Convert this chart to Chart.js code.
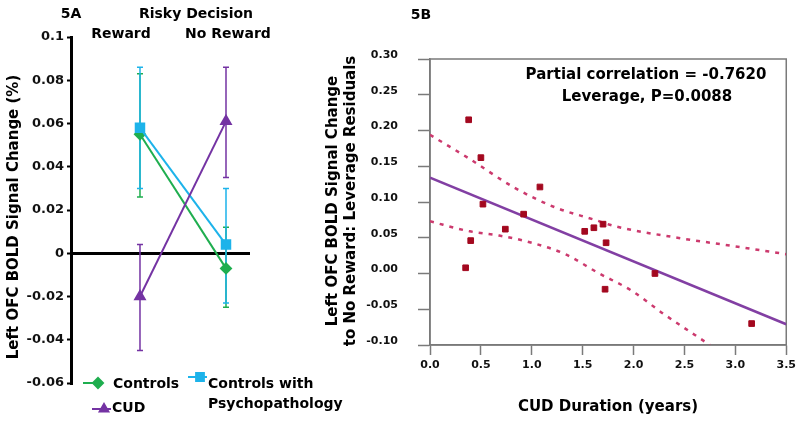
<!DOCTYPE html>
<html>
<head>
<meta charset="utf-8">
<script src="https://cdn.jsdelivr.net/npm/chart.js@4.4.1/dist/chart.umd.min.js"></script>
<style>
  html, body { margin: 0; padding: 0; background: #fff; }
  #wrap { position: relative; width: 800px; height: 421px; overflow: hidden; }
  #left { position: absolute; left: 0; top: 0; }
  #right { position: absolute; left: 300px; top: 0; }
</style>
</head>
<body>
<div id="wrap">
  <canvas id="left" width="370" height="421"></canvas>
  <canvas id="right" width="500" height="421"></canvas>
</div>
<script>
// ---------- Panel 5A data ----------
const leftCategories = ['Reward', 'No Reward'];
const leftYTicks = [-0.06, -0.04, -0.02, 0, 0.02, 0.04, 0.06, 0.08, 0.1];
const leftYTickLabels = ['-0.06', '-0.04', '-0.02', '0', '0.02', '0.04', '0.06', '0.08', '0.1'];

const controlsMean = [0.055, -0.007];
const controlsHigh = [0.083, 0.012];
const controlsLow  = [0.026, -0.025];

const psychoMean = [0.058, 0.004];
const psychoHigh = [0.086, 0.030];
const psychoLow  = [0.030, -0.023];

const cudMean = [-0.020, 0.061];
const cudHigh = [0.004, 0.086];
const cudLow  = [-0.045, 0.035];

// ---------- Panel 5B data ----------
const cudDuration = [0.35, 0.40, 0.38, 0.50, 0.52, 0.74, 0.92, 1.08, 1.52, 1.61, 1.70, 1.73, 1.72, 2.21, 3.16];
const leverageResiduals = [0.008, 0.046, 0.215, 0.162, 0.097, 0.062, 0.083, 0.121, 0.059, 0.064, 0.069, 0.043, -0.022, 0.000, -0.070];

const fitX = [0, 3.5];
const fitY = [0.134, -0.071];

const upperBandX = [0, 0.37, 0.83, 1.22, 1.62, 1.82, 2.43, 2.95, 3.5];
const upperBandY = [0.194, 0.162, 0.120, 0.093, 0.075, 0.066, 0.050, 0.039, 0.027];

const lowerBandX = [0, 0.39, 0.68, 1.0, 1.33, 1.65, 1.98, 2.3, 2.75];
const lowerBandY = [0.073, 0.059, 0.053, 0.043, 0.027, 0.001, -0.024, -0.057, -0.100];

const rightYTickLabels = ['-0.10', '-0.05', '0.00', '0.05', '0.10', '0.15', '0.20', '0.25', '0.30'];
const rightXTickLabels = ['0.0', '0.5', '1.0', '1.5', '2.0', '2.5', '3.0', '3.5'];

// ---------- styling ----------
const FONT = 'DejaVu Sans';
Chart.defaults.font.family = FONT;
Chart.defaults.color = '#000';

const GREEN = '#1fae4f';
const BLUE = '#1db3ea';
const PURPLE = '#7433a3';

function pts(ys) { return ys.map((y, i) => ({ x: i + 1, y })); }
function xy(xs, ys) { return xs.map((x, i) => ({ x, y: ys[i] })); }

// error bars + texts + legend for 5A
const errorBars = [
  { color: GREEN, high: controlsHigh, low: controlsLow },
  { color: BLUE, high: psychoHigh, low: psychoLow },
  { color: PURPLE, high: cudHigh, low: cudLow }
];

const leftDecor = {
  id: 'leftDecor',
  beforeDatasetsDraw(chart) {
    const ctx = chart.ctx, xs = chart.scales.x, ys = chart.scales.y;
    ctx.save();
    errorBars.forEach(eb => {
      ctx.strokeStyle = eb.color;
      ctx.lineWidth = 1.5;
      eb.high.forEach((h, i) => {
        const px = xs.getPixelForValue(i + 1);
        const top = ys.getPixelForValue(h), bot = ys.getPixelForValue(eb.low[i]);
        ctx.beginPath();
        ctx.moveTo(px, top); ctx.lineTo(px, bot);
        ctx.moveTo(px - 3, top); ctx.lineTo(px + 3, top);
        ctx.moveTo(px - 3, bot); ctx.lineTo(px + 3, bot);
        ctx.stroke();
      });
    });
    ctx.restore();
  },
  afterDraw(chart) {
    const ctx = chart.ctx;
    ctx.save();
    ctx.fillStyle = '#000';
    ctx.textAlign = 'center';
    ctx.textBaseline = 'middle';
    ctx.font = 'bold 14px ' + FONT;
    ctx.fillText('5A', 71, 14);
    ctx.fillText('Risky Decision', 196, 14);
    ctx.fillText(leftCategories[0], 121, 34);
    ctx.fillText(leftCategories[1], 228, 34);
    // y title
    ctx.save();
    ctx.translate(14, 217);
    ctx.rotate(-Math.PI / 2);
    ctx.font = 'bold 15px ' + FONT;
    ctx.fillText('Left OFC BOLD Signal Change (%)', 0, 0);
    ctx.restore();
    // legend
    const items = [
      { color: GREEN, style: 'rectRot', r: 5, x1: 83, x2: 103, mx: 98, y: 383, text: ['Controls'], tx: 113, ty: 384 },
      { color: PURPLE, style: 'triangle', r: 5, x1: 92, x2: 111, mx: 104, y: 409, text: ['CUD'], tx: 112, ty: 408 },
      { color: BLUE, style: 'rect', r: 5.5, x1: 188, x2: 207, mx: 200, y: 377, text: ['Controls with', 'Psychopathology'], tx: 208, ty: 384 }
    ];
    items.forEach(it => {
      ctx.strokeStyle = it.color; ctx.fillStyle = it.color; ctx.lineWidth = 2;
      ctx.beginPath(); ctx.moveTo(it.x1, it.y); ctx.lineTo(it.x2, it.y); ctx.stroke();
      Chart.helpers.drawPoint(ctx, { pointStyle: it.style, radius: it.r, borderWidth: 1 }, it.mx, it.y);
      ctx.fillStyle = '#000';
      ctx.textAlign = 'left';
      ctx.font = 'bold 14px ' + FONT;
      it.text.forEach((t, k) => ctx.fillText(t, it.tx, it.ty + k * 20));
    });
    ctx.restore();
  }
};

new Chart(document.getElementById('left'), {
  type: 'line',
  data: {
    datasets: [
      { label: 'CUD', data: pts(cudMean), borderColor: PURPLE, backgroundColor: PURPLE,
        pointStyle: 'triangle', pointRadius: 5.5, borderWidth: 2, order: 0 },
      { label: 'Controls with Psychopathology', data: pts(psychoMean), borderColor: BLUE, backgroundColor: BLUE,
        pointStyle: 'rect', pointRadius: 6, borderWidth: 2, order: 1 },
      { label: 'Controls', data: pts(controlsMean), borderColor: GREEN, backgroundColor: GREEN,
        pointStyle: 'rectRot', pointRadius: 5, borderWidth: 2, order: 2 }
    ]
  },
  options: {
    responsive: false, animation: false, devicePixelRatio: 1,
    layout: { padding: { left: 0, top: 37, right: 120, bottom: 38 } },
    plugins: { legend: { display: false }, tooltip: { enabled: false } },
    scales: {
      x: { type: 'linear', min: 0.198, max: 2.279, display: false },
      y: {
        type: 'linear', min: -0.06, max: 0.1,
        afterFit(scale) { scale.width = 71; },
        afterBuildTicks(scale) { scale.ticks = leftYTicks.map(v => ({ value: v })); },
        border: { display: true, color: '#000', width: 3 },
        grid: {
          drawOnChartArea: true,
          color: c => (c.tick && c.tick.value === 0 ? '#000' : 'rgba(0,0,0,0)'),
          lineWidth: 3, tickColor: '#000', tickLength: 4, tickWidth: 2
        },
        ticks: {
          padding: 3, color: '#111',
          font: { family: FONT, size: 13, weight: 'bold' },
          callback: (v, i) => leftYTickLabels[i]
        }
      }
    }
  },
  plugins: [leftDecor]
});

// ---------- 5B ----------
const rightDecor = {
  id: 'rightDecor',
  beforeDatasetsDraw(chart) {
    const a = chart.chartArea, ctx = chart.ctx;
    ctx.save();
    ctx.strokeStyle = '#7a7a7a';
    ctx.lineWidth = 1.5;
    ctx.strokeRect(a.left, a.top, a.right - a.left, a.bottom - a.top);
    ctx.restore();
  },
  afterDraw(chart) {
    const ctx = chart.ctx;
    ctx.save();
    ctx.fillStyle = '#000';
    ctx.textAlign = 'center';
    ctx.textBaseline = 'middle';
    ctx.font = 'bold 14px ' + FONT;
    ctx.fillText('5B', 121, 15);
    ctx.font = 'bold 15px ' + FONT;
    ctx.fillText('Partial correlation = -0.7620', 346, 75);
    ctx.fillText('Leverage, P=0.0088', 347, 97);
    ctx.fillText('CUD Duration (years)', 308, 407);
    ctx.save();
    ctx.translate(33, 201);
    ctx.rotate(-Math.PI / 2);
    ctx.fillText('Left OFC BOLD Signal Change', 0, 0);
    ctx.fillText('to No Reward: Leverage Residuals', 0, 18);
    ctx.restore();
    ctx.restore();
  }
};

const BAND = '#cc3a6e';

new Chart(document.getElementById('right'), {
  type: 'scatter',
  data: {
    datasets: [
      { data: xy(cudDuration, leverageResiduals), pointStyle: 'rect', pointRadius: 4,
        backgroundColor: '#a3081f', borderColor: '#a3081f', borderWidth: 1, order: 0 },
      { type: 'line', data: xy(fitX, fitY), borderColor: '#823fa3', borderWidth: 2.5,
        pointRadius: 0, order: 1 },
      { type: 'line', data: xy(upperBandX, upperBandY), borderColor: BAND, borderWidth: 2.5,
        borderDash: [4, 6], pointRadius: 0, cubicInterpolationMode: 'monotone', order: 2 },
      { type: 'line', data: xy(lowerBandX, lowerBandY), borderColor: BAND, borderWidth: 2.5,
        borderDash: [4, 6], pointRadius: 0, cubicInterpolationMode: 'monotone', order: 3 }
    ]
  },
  options: {
    responsive: false, animation: false, devicePixelRatio: 1,
    layout: { padding: { left: 0, top: 59, right: 10, bottom: 0 } },
    plugins: { legend: { display: false }, tooltip: { enabled: false } },
    scales: {
      x: {
        type: 'linear', min: 0, max: 3.5,
        afterFit(scale) { scale.height = 76; },
        afterBuildTicks(scale) { scale.ticks = rightXTickLabels.map(t => ({ value: parseFloat(t) })); },
        border: { display: true, color: '#7a7a7a', width: 1.5 },
        grid: { drawOnChartArea: false, tickLength: 10, tickColor: '#7a7a7a', tickWidth: 1.5 },
        ticks: {
          padding: 4, color: '#111', maxRotation: 0,
          font: { family: FONT, size: 11, weight: 'bold' },
          callback: (v, i) => rightXTickLabels[i]
        }
      },
      y: {
        type: 'linear', min: -0.1, max: 0.3,
        afterFit(scale) { scale.width = 130; },
        afterBuildTicks(scale) { scale.ticks = rightYTickLabels.map(t => ({ value: parseFloat(t) })); },
        border: { display: true, color: '#7a7a7a', width: 1.5 },
        grid: { drawOnChartArea: false, tickLength: 12, tickColor: '#7a7a7a', tickWidth: 1.5 },
        ticks: {
          padding: 20, labelOffset: -4, color: '#111',
          font: { family: FONT, size: 11, weight: 'bold' },
          callback: (v, i) => rightYTickLabels[i]
        }
      }
    }
  },
  plugins: [rightDecor]
});
</script>
</body>
</html>
